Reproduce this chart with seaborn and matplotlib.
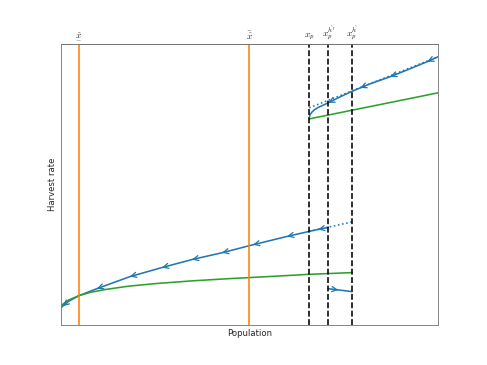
import numpy as np
import pandas as pd
import matplotlib
matplotlib.use("Agg")
import matplotlib.pyplot as plt
import seaborn as sns

# ---- data (axis units 0..10) ----
low_blue_x = [0.0, 0.2, 0.477, 0.955, 1.830, 2.679, 3.475, 4.297, 5.013, 5.995, 6.578, 6.817, 7.082]
low_blue_y = [0.607, 0.83, 1.036, 1.286, 1.714, 2.036, 2.321, 2.571, 2.821, 3.143, 3.321, 3.393, 3.464]
low_green_x = [0.0, 0.2, 0.477, 0.8, 1.2, 1.8, 2.5, 3.5, 4.5, 5.5, 6.5, 7.719]
low_green_y = [0.68, 0.88, 1.036, 1.16, 1.26, 1.375, 1.465, 1.565, 1.645, 1.715, 1.79, 1.857]
low_dot_x = [6.578, 7.719]
low_dot_y = [3.321, 3.66]
small_x = [7.082, 7.719]
small_y = [1.286, 1.179]
up_green_x = [6.578, 10.0]
up_green_y = [7.321, 8.25]
up_blue_x = [6.578, 6.6, 6.65, 6.72, 6.82, 6.95, 7.082, 7.401, 7.745, 8.196, 8.727, 9.257, 9.708, 10.0]
up_blue_y = [7.357, 7.47, 7.56, 7.65, 7.73, 7.81, 7.893, 8.107, 8.321, 8.571, 8.821, 9.107, 9.357, 9.536]
up_dot_x = [6.578, 10.0]
up_dot_y = [7.714, 9.536]
low_arrows = [0.053, 0.955, 1.830, 2.679, 3.475, 4.271, 5.093, 5.995, 6.817]
up_arrows = [7.082, 7.931, 8.727, 9.708]
small_arrows = [7.35]
orange_x = [0.477, 4.987]
dashed_x = [6.578, 7.082, 7.719]
top_ticks = [0.477, 4.987, 6.578, 7.082, 7.719]
top_labels = [r"$\underset{-}{\hat{x}}$", r"$\bar{\hat{x}}$", r"$x_p$", r"$x_p^{\hat{h}'}$", r"$x_p^{\hat{h}}$"]

sns.set_style("white", {"axes.edgecolor": "0.45"})
plt.rcParams["mathtext.fontset"] = "cm"

fig, ax = plt.subplots(figsize=(6.4, 4.8), dpi=76.1)
blue, orange, green = "tab:blue", "tab:orange", "tab:green"
lw = 1.5

for xs, ys, c, ls in [(low_blue_x, low_blue_y, blue, "-"),
                      (low_green_x, low_green_y, green, "-"),
                      (low_dot_x, low_dot_y, blue, ":"),
                      (small_x, small_y, blue, "-"),
                      (up_green_x, up_green_y, green, "-"),
                      (up_blue_x, up_blue_y, blue, "-"),
                      (up_dot_x, up_dot_y, blue, ":")]:
    sns.lineplot(x=xs, y=ys, ax=ax, color=c, linestyle=ls, lw=lw, sort=False, estimator=None)

def arrows(xs_curve, ys_curve, positions, direction):
    for x in positions:
        tip = (x, np.interp(x, xs_curve, ys_curve))
        tx = x - direction * 0.05
        tail = (tx, np.interp(tx, xs_curve, ys_curve))
        ax.annotate("", xy=tip, xytext=tail,
                    arrowprops=dict(arrowstyle="->", color=blue, lw=1.2,
                                    mutation_scale=12, shrinkA=0, shrinkB=0))

arrows(low_blue_x, low_blue_y, low_arrows, -1)
arrows(up_blue_x, up_blue_y, up_arrows, -1)
arrows(small_x, small_y, small_arrows, 1)

for x in orange_x:
    ax.axvline(x, color=orange, lw=lw)
for x in dashed_x:
    ax.axvline(x, color="black", lw=lw, linestyle="--")

ax.set_xlim(0, 10)
ax.set_ylim(0, 10)
ax.set_xticks([])
ax.set_yticks([])
ax.set_xlabel("Population", fontsize=8)
ax.set_ylabel("Harvest rate", fontsize=8)

sec = ax.secondary_xaxis("top")
sec.set_xticks(top_ticks, top_labels)
sec.tick_params(length=0, labelsize=9, pad=2)

fig.savefig("out.png", dpi=76.1)
